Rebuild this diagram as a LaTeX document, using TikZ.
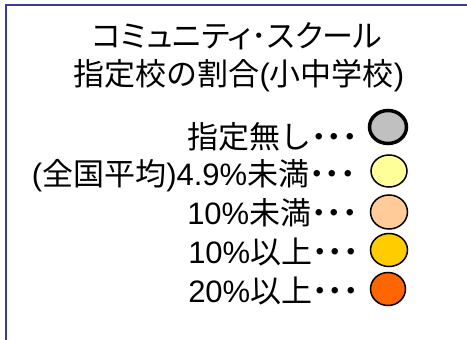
\documentclass[tikz,border=0pt]{standalone}
\usepackage{fontspec}
\usetikzlibrary{shapes.geometric}
\setmainfont{Liberation Sans}
\newfontfamily\cjk{Noto Sans CJK JP}
\newfontfamily\cjkp[RawFeature=+palt]{Noto Sans CJK JP}
\definecolor{framec}{RGB}{60,60,150}
\definecolor{c0}{RGB}{192,192,192}
\definecolor{c1}{RGB}{255,255,153}
\definecolor{c2}{RGB}{255,204,153}
\definecolor{c3}{RGB}{255,204,0}
\definecolor{c4}{RGB}{255,102,0}
\newcommand{\legdots}{{\cjk\bfseries ･･･}}
\begin{document}
\begin{tikzpicture}[x=1pt,y=-1pt,
  txt/.style={inner sep=0pt,font=\fontsize{31}{34}\selectfont,anchor=base},
  leg/.style={inner sep=0pt,font=\fontsize{31}{34}\selectfont,anchor=base east},
  legmark/.style={ellipse,draw=black,line width=1.5pt,minimum width=36pt,minimum height=32pt,inner sep=0pt}]
\useasboundingbox (0,0) rectangle (467,340);
\coordinate (fb) at (6,341);
\coordinate (fc) at (6,5);
\coordinate (fr) at (468,5);
\draw[framec,line width=2pt] (fb) -- (fc) -- (fr);
\node[txt] (t1) at (237,47) {\cjkp コミュニティ･スクール};
\node[txt] (t2) at (239,85) {{\cjk 指定校の割合}({\cjk 小中学校})};
\node[leg] (l0) at (358,148) {{\cjk 指定無し}\legdots};
\node[leg] (l1) at (356,185) {({\cjk 全国平均})4.9\%{\cjk 未満}\legdots};
\node[leg] (l2) at (358,224) {10\%{\cjk 未満}\legdots};
\node[leg] (l3) at (359,263) {10\%{\cjk 以上}\legdots};
\node[leg] (l4) at (359,302) {20\%{\cjk 以上}\legdots};
\node[legmark,fill=c0,line width=3.5pt,minimum width=37pt,minimum height=33pt] (m0) at (388,127) {};
\node[legmark,fill=c1,minimum width=36pt,minimum height=32pt] (m1) at (389,171) {};
\node[legmark,fill=c2,minimum width=37pt,minimum height=34pt] (m2) at (389,212) {};
\node[legmark,fill=c3,minimum width=37pt,minimum height=33pt] (m3) at (389,250) {};
\node[legmark,fill=c4,minimum width=35pt,minimum height=33pt] (m4) at (388,289) {};
\end{tikzpicture}
\end{document}
